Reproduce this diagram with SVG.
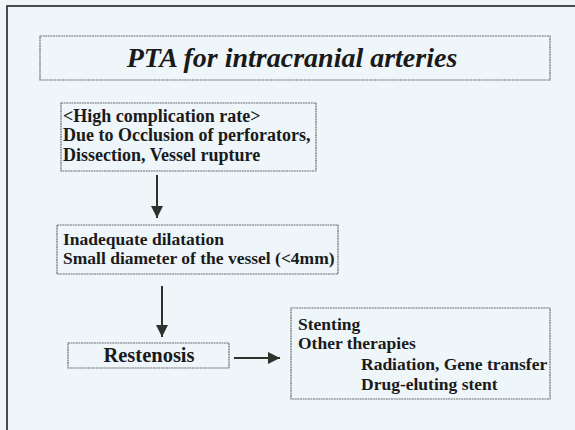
<svg xmlns="http://www.w3.org/2000/svg" width="575" height="430" viewBox="0 0 575 430">
<style>
.box{fill:none;stroke:#6e6e6e;stroke-width:1.2;stroke-dasharray:2 0.6}
.t{font-weight:700;fill:#1a1a1a;font-size:17.5px}
.title{font-weight:700;font-style:italic;fill:#1a1a1a;font-size:28px}
.arr{stroke:#2b332b;stroke-width:2;fill:none;marker-end:url(#ah)}
</style>
<defs>
<marker id="ah" viewBox="0 0 10 10" refX="10" refY="5" markerWidth="6" markerHeight="6" orient="auto">
<path d="M0,0 L10,5 L0,10 z" fill="#2b332b"/>
</marker>
</defs>
<rect x="0" y="0" width="575" height="430" fill="#eef6fa"/>
<rect x="7" y="6" width="600" height="460" fill="none" stroke="#222" stroke-width="1.6"/>
<g id="title" font-family="Liberation Serif, serif">
<rect class="box" x="40" y="36" width="510" height="44"/>
<text class="title" x="292" y="67" text-anchor="middle">PTA for intracranial arteries</text>
</g>
<g id="complication" font-family="Liberation Serif, serif">
<rect class="box" x="61" y="103" width="255" height="68"/>
<text class="t" x="63" y="122" style="font-size:18px">&lt;High complication rate&gt;</text>
<text class="t" x="63" y="141" style="font-size:18px">Due to Occlusion of perforators,</text>
<text class="t" x="63" y="161" style="font-size:18px">Dissection, Vessel rupture</text>
</g>
<g id="dilatation" font-family="Liberation Serif, serif">
<rect class="box" x="57" y="225" width="281" height="49"/>
<text class="t" x="63" y="245">Inadequate dilatation</text>
<text class="t" x="63" y="264">Small diameter of the vessel (&lt;4mm)</text>
</g>
<g id="restenosis" font-family="Liberation Serif, serif">
<rect class="box" x="68" y="343" width="161" height="25"/>
<text class="t" x="149" y="362" text-anchor="middle" style="font-size:20.5px">Restenosis</text>
</g>
<g id="therapies" font-family="Liberation Serif, serif">
<rect class="box" x="291" y="308" width="259" height="91"/>
<text class="t" x="298" y="330">Stenting</text>
<text class="t" x="298" y="349">Other therapies</text>
<text class="t" x="361" y="370">Radiation, Gene transfer</text>
<text class="t" x="361" y="390">Drug-eluting stent</text>
</g>
<g id="connectors">
<line class="arr" x1="157" y1="175" x2="157" y2="218"/>
<line class="arr" x1="162" y1="286" x2="162" y2="337"/>
<line class="arr" x1="234" y1="358" x2="280" y2="358"/>
</g>
</svg>
